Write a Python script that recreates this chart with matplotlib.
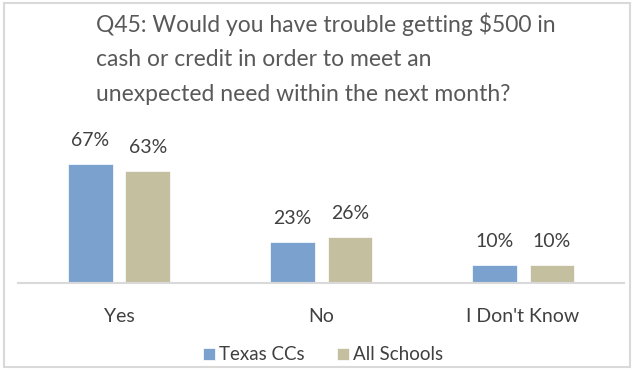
import numpy as np
import matplotlib.pyplot as plt
from matplotlib.patches import Rectangle

categories = ['Yes', 'No', "I Don't Know"]
texas_ccs = [67, 23, 10]
all_schools = [63, 26, 10]
series_names = ['Texas CCs', 'All Schools']

blue = '#7BA2CE'
beige = '#C4BF9F'

plt.rcParams['font.family'] = ['Lato', 'DejaVu Sans']

fig = plt.figure(figsize=(6.34, 3.70), dpi=100)
ax = fig.add_axes([0.0284, 0.2351, 0.956, 0.3838])

x = np.arange(len(categories))
w = 0.222
off = 0.143
b1 = ax.bar(x - off, texas_ccs, w, color=blue, edgecolor='white', linewidth=0.5, label=series_names[0])
b2 = ax.bar(x + off, all_schools, w, color=beige, edgecolor='white', linewidth=0.5, label=series_names[1])

for bars in (b1, b2):
    for rect in bars:
        h = rect.get_height()
        ax.annotate(f'{h:.0f}%', (rect.get_x() + rect.get_width() / 2, h),
                    xytext=(0, 17), textcoords='offset points',
                    ha='center', va='center', fontsize=14, color='#404040')

ax.set_xlim(-0.5, 2.5)
ax.set_ylim(0, 80)
ax.set_yticks([])
ax.set_xticks(x)
ax.set_xticklabels(categories, fontsize=14, color='#404040')
ax.tick_params(axis='x', length=0, pad=18)
for s in ['top', 'right', 'left']:
    ax.spines[s].set_visible(False)
ax.spines['bottom'].set_color('#D9D9D9')
ax.spines['bottom'].set_linewidth(1.5)

fig.text(96 / 634, 1 - 12 / 370,
         'Q45: Would you have trouble getting $500 in\ncash or credit in order to meet an\nunexpected need within the next month?',
         ha='left', va='top', fontsize=16.5, color='#595959', linespacing=1.8)

fig.legend(handles=[b1, b2], loc='center', bbox_to_anchor=(323 / 634, 1 - 355 / 370),
           ncol=2, frameon=False, fontsize=13.5, handlelength=0.65, handleheight=0.65,
           handletextpad=0.2, columnspacing=1.7, borderpad=0, labelcolor='#404040')

# outer chart border
fig.patches.append(Rectangle((4 / 634, 3 / 370), 626 / 634, 364 / 370, transform=fig.transFigure,
                             fill=False, edgecolor='#D9D9D9', linewidth=1.5))

fig.savefig('out.png', dpi=100)
